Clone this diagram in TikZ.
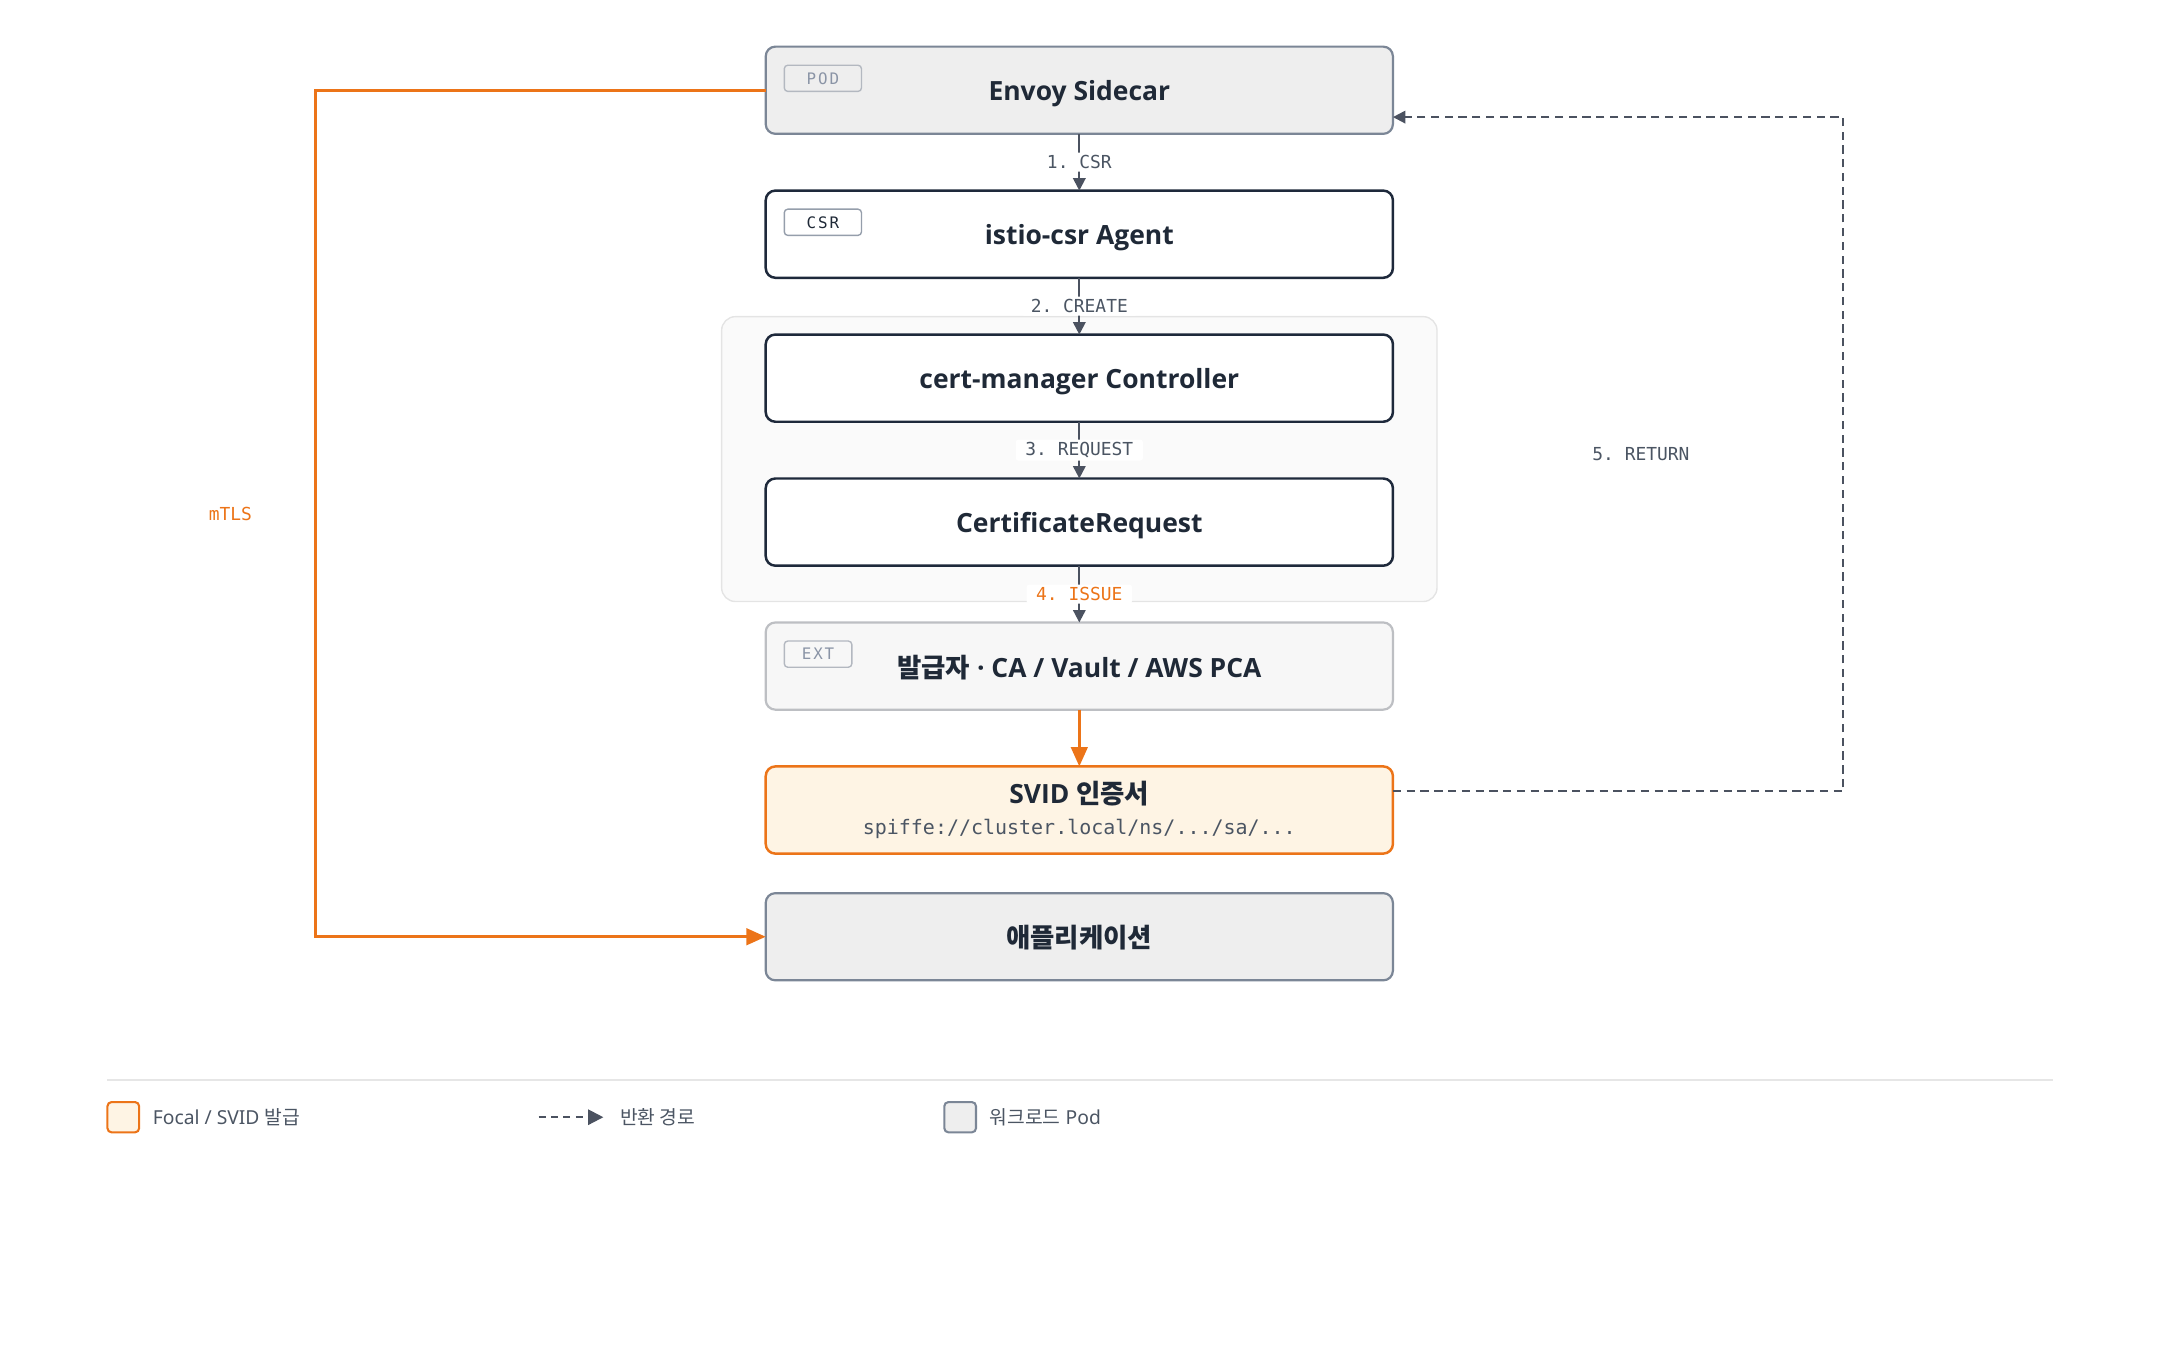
\documentclass[tikz,border=0pt]{standalone}
\usepackage{fontspec}
\setmainfont{Noto Sans}
\setmonofont{DejaVu Sans Mono}
\newfontfamily\kr{Noto Sans CJK KR}
\newfontfamily\titlefont{Open Sans}
\usepackage{xcolor}
\usetikzlibrary{
	arrows.meta,
	calc,
	positioning,
	backgrounds,
	}

\definecolor{ink}{HTML}{1F2937}
\definecolor{navy}{HTML}{1E293B}
\definecolor{slate}{HTML}{7B8696}
\definecolor{podfill}{HTML}{EEEEEE}
\definecolor{extline}{HTML}{BDBFC3}
\definecolor{extfill}{HTML}{F7F7F7}
\definecolor{focalorange}{HTML}{EC7418}
\definecolor{focalfill}{HTML}{FEF4E4}
\definecolor{grpline}{HTML}{E4E4E4}
\definecolor{grpfill}{HTML}{FAFAFA}
\definecolor{tagline}{HTML}{B3B8C0}
\definecolor{taggray}{HTML}{8A94A6}
\definecolor{arrowgray}{HTML}{4B5260}
\definecolor{labelgray}{HTML}{4B5563}
\definecolor{rulegray}{HTML}{E6E6E6}

\begin{document}
\begin{tikzpicture}[x=1pt, y=-1pt, node distance=41.2pt,
	box/.style={draw=navy, line width=1.8pt, rounded corners=7pt, fill=white, text=ink, outer sep=0pt,
		minimum width=455.3pt, minimum height=63.3pt, text depth=0pt,
		font=\titlefont\fontsize{19.2}{23}\selectfont\bfseries},
	podbox/.style={box, draw=slate, fill=podfill, line width=1.6pt},
	extbox/.style={box, draw=extline, fill=extfill, line width=1.6pt},
	focal/.style={box, draw=focalorange, fill=focalfill, line width=1.8pt},
	group/.style={draw=grpline, fill=grpfill, line width=1pt, rounded corners=10pt},
	tag/.style={draw=tagline, line width=1pt, rounded corners=2.5pt, anchor=north west, inner sep=0pt,
		minimum height=19pt, font=\ttfamily\fontsize{11.5}{13}\selectfont\addfontfeature{LetterSpace=12}, text=taggray},
	flow/.style={draw=arrowgray, line width=1.5pt, -{Triangle[length=9pt, width=9pt]}},
	issue/.style={draw=focalorange, line width=2pt, -{Triangle[length=14pt, width=12pt]}},
	mtls/.style={draw=focalorange, line width=2pt, -{Triangle[length=14pt, width=12pt]}},
	ret/.style={draw=arrowgray, line width=1.5pt, dash pattern=on 6pt off 4pt, -{Triangle[length=9pt, width=9pt]}},
	lbl/.style={fill=white, rounded corners=2pt, inner xsep=7pt, inner ysep=2pt,
		font=\ttfamily\fontsize{13}{15}\selectfont, text=labelgray},
	keybox/.style={line width=1.5pt, rounded corners=3pt, minimum width=23pt, minimum height=22pt, inner sep=0pt},
	keytext/.style={inner sep=0pt, anchor=west, font=\fontsize{14}{16}\selectfont, text=labelgray},
	]
	\useasboundingbox (0,0) rectangle (1568,980);

	\node[podbox] (envoy) at (783.5,65.5) {Envoy Sidecar};
	\node[box, below=of envoy] (istio) {istio-csr Agent};
	\node[box, below=of istio] (ctrl) {cert-manager Controller};
	\node[box, below=of ctrl] (creq) {CertificateRequest};
	\node[extbox, below=of creq] (issuer) {{\kr 발급자} · CA / Vault / AWS PCA};
	\node[focal, below=of issuer, align=center, inner ysep=2pt, text depth=] (svid)
		{SVID {\kr 인증서}\\[0pt]{\ttfamily\mdseries\fontsize{14.5}{17}\selectfont\color{labelgray}spiffe://cluster.local/ns/.../sa/...}};
	\node[podbox, below=28.7pt of svid] (app) {{\kr 애플리케이션}};

	\node[tag, minimum width=56pt] (podtag) at ($(envoy.north west)+(13,13)$) {POD};
	\node[tag, minimum width=56pt, draw=slate!80, text=ink] (csrtag) at ($(istio.north west)+(13,13)$) {CSR};
	\node[tag, minimum width=49pt] (exttag) at ($(issuer.north west)+(13,13)$) {EXT};

	\begin{scope}[on background layer]
		\draw[group] ($(ctrl.north west)+(-32,-13)$) rectangle ($(creq.south east)+(32,26)$);
	\end{scope}

	\draw[flow] (envoy) -- node[lbl]{1. CSR} (istio);
	\draw[flow] (istio) -- node[lbl]{2. CREATE} (ctrl);
	\draw[flow] (ctrl) -- node[lbl]{3. REQUEST} (creq);
	\draw[flow] (creq) -- node[lbl, text=focalorange]{4. ISSUE} (issuer);
	\draw[issue] (issuer) -- (svid);

	\draw[mtls] (envoy.west) -- ++(-327,0) |- node[pos=0.25, left=38pt, lbl, fill=none, text=focalorange]{mTLS} (app.west);
	\draw[ret] ($(svid.east)+(0,-13.5)$) -- ++(327,0) |- node[pos=0.25, left=104pt, lbl, fill=none]{5. RETURN} ($(envoy.east)+(0,19.5)$);

	% legend
	\draw[rulegray, line width=1.5pt] (78,784) -- (1490,784);
	\node[keybox, draw=focalorange, fill=focalfill] (keyfocal) at (89.5,811) {};
	\node[keytext, right=9pt of keyfocal] (txtfocal) {Focal / SVID {\kr 발급}};
	\coordinate (retfrom) at (391,811);
	\coordinate (retto) at (438,811);
	\draw[ret, dash pattern=on 5pt off 4pt, -{Triangle[length=11pt, width=11pt]}] (retfrom) -- (retto);
	\node[keytext, right=12pt of retto] (txtret) {{\kr 반환 경로}};
	\node[keybox, draw=slate, fill=podfill] (keypod) at (697,811) {};
	\node[keytext, right=9pt of keypod] (txtpod) {{\kr 워크로드} Pod};
\end{tikzpicture}
\end{document}
